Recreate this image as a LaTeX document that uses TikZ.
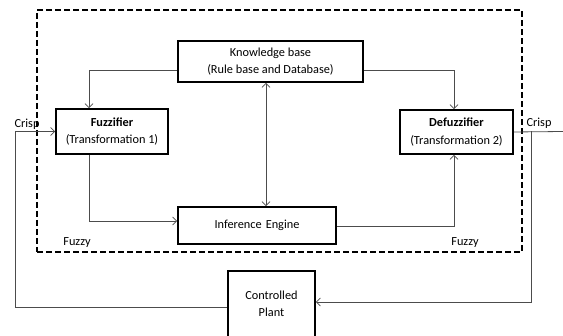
\documentclass[tikz,border=0pt]{standalone}
\usepackage{fontspec}
\setmainfont{Carlito}
\usetikzlibrary{arrows.meta}
\begin{document}
\begin{tikzpicture}[x=1pt,y=-1pt,
  font=\fontsize{12.3}{17.5}\selectfont,
  box/.style={draw,line width=1.6pt,align=center,inner sep=0pt},
  conn/.style={draw=black!70,line width=0.8pt},
  arr/.style={-{Straight Barb[length=4pt,width=8pt]}},
  lbl/.style={inner sep=0pt}]
\useasboundingbox (0,0) rectangle (563,336);
\node[draw,dashed,line width=1.6pt,dash pattern=on 6pt off 3pt,minimum width=485pt,minimum height=242pt,inner sep=0pt] (ctrl) at (279.5,131) {};
\node[box,minimum width=185pt,minimum height=41pt] (kb) at (270.5,61.5) {Knowledge base\\(Rule base and Database)};
\node[box,minimum width=112pt,minimum height=45pt] (fuzz) at (112,131.5) {\textbf{Fuzzifier}\\(Transformation 1)};
\node[box,minimum width=113pt,minimum height=44pt] (defuzz) at (456.5,132) {\textbf{Defuzzifier}\\(Transformation 2)};
\node[box,minimum width=158pt,minimum height=37pt] (inf) at (257,225.5) {Inference\,\,Engine};
\node[box,minimum width=87pt,minimum height=79pt] (plant) at (271.5,310.5) {};
\node[lbl,align=center] (plantlbl) at (271.5,304) {Controlled\\Plant};
\coordinate (inL) at (15,131.5);
\coordinate (outR) at (563,131.5);
\coordinate (tap) at (531,131.5);
\node[lbl] (crispL) at (27,124) {Crisp};
\node[lbl] (crispR) at (539,123) {Crisp};
\node[lbl] (fuzzyL) at (77,243) {Fuzzy};
\node[lbl] (fuzzyR) at (465,243) {Fuzzy};
\draw[conn,arr] ([yshift=-8.5pt]kb.west) -| ([xshift=-23pt]fuzz.north);
\draw[conn,arr] ([yshift=-8.5pt]kb.east) -| ([xshift=-2.5pt]defuzz.north);
\draw[conn,{Straight Barb[length=4pt,width=8pt]}-{Straight Barb[length=4pt,width=8pt]}] ([xshift=-4.5pt]kb.south) -- ([xshift=-4.5pt]kb.south |- inf.north);
\draw[conn,arr] ([xshift=-23pt]fuzz.south) |- ([yshift=4.5pt]inf.west);
\draw[conn,arr] ([yshift=-0.5pt]inf.east) -| ([xshift=-2.5pt]defuzz.south);
\draw[conn,arr] ([yshift=3.5pt]plant.west) -| (inL) -- (fuzz.west);
\draw[conn] (defuzz.east) -- (outR);
\draw[conn,arr] (tap) |- ([yshift=8.5pt]plant.east);
\end{tikzpicture}
\end{document}
